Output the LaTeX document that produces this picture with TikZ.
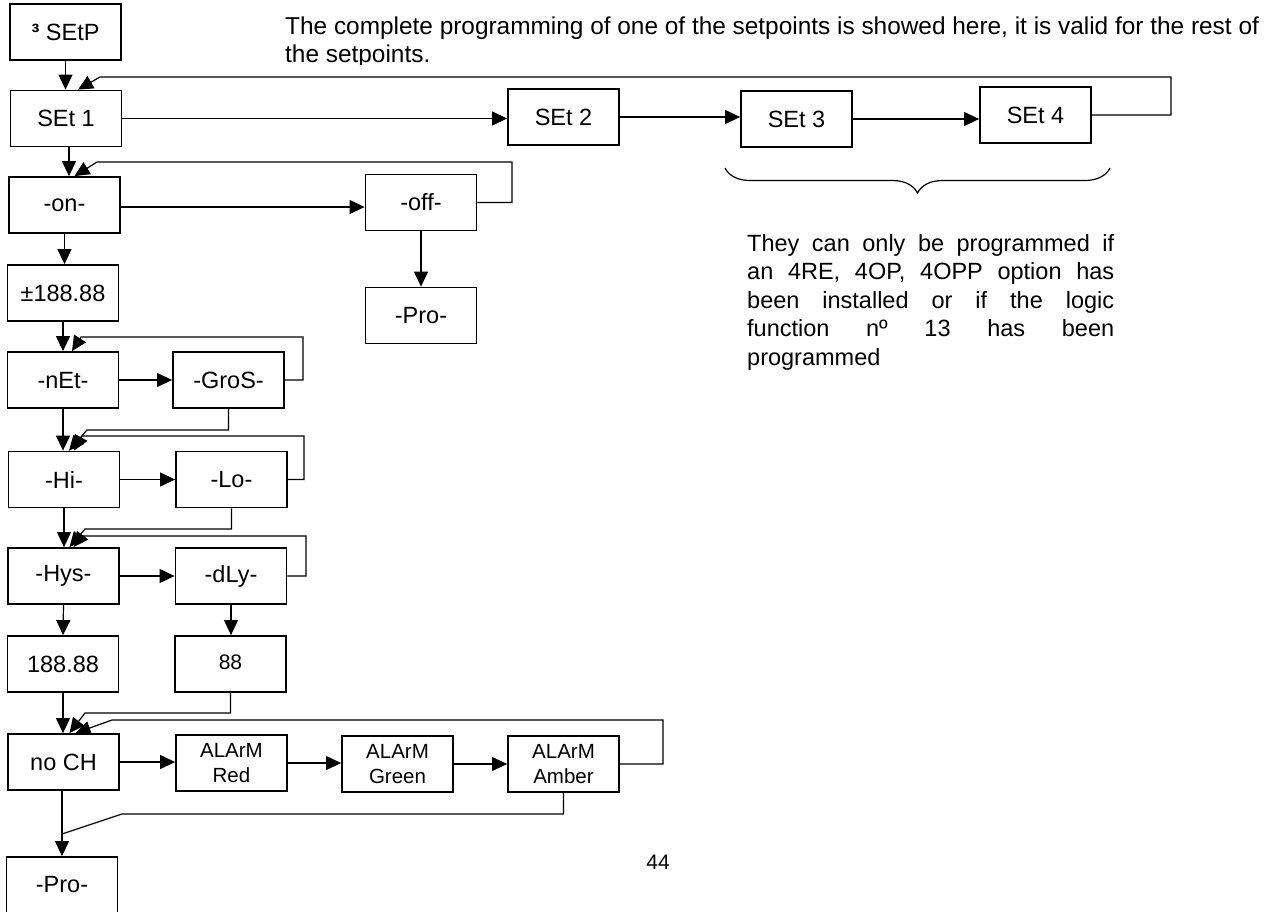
\documentclass[tikz,border=0pt]{standalone}
\usepackage{fontspec}
\setmainfont{Liberation Sans}
\usetikzlibrary{arrows.meta,decorations.pathreplacing}

\tikzset{
caja/.style={draw,line width=1.8pt,minimum width=111pt,minimum height=56pt,inner sep=0pt,font=\fontsize{23.5}{28}\selectfont},
cajaAlarma/.style={caja,align=center,font=\fontsize{20.5}{25}\selectfont},
flecha/.style={line width=1.2pt,-{Triangle[length=15pt,width=14pt]}},
linea/.style={line width=1.2pt},
texto/.style={font=\fontsize{23.5}{28.5}\selectfont,inner sep=0pt,anchor=base west}
}

\begin{document}
\begin{tikzpicture}[x=1pt,y=-1pt]
    \useasboundingbox (0,0) rectangle (1266,911);

    % cajas
    \node[caja] (SEtP) at (65.5,32) {\textbf{³} SEtP};
    \node[caja] (SEt1) at (66,118.5) {SEt 1};
    \node[caja] (SEt2) at (563.5,117) {SEt 2};
    \node[caja] (SEt3) at (796.5,119) {SEt 3};
    \node[caja] (SEt4) at (1035.5,115) {SEt 4};
    \node[caja] (on) at (64.5,205) {-on-};
    \node[caja] (off) at (421,202.5) {-off-};
    \node[caja] (proOff) at (421,315.5) {-Pro-};
    \node[caja] (valor) at (63,293) {±188.88};
    \node[caja] (nEt) at (63,380) {-nEt-};
    \node[caja] (GroS) at (228.5,380) {-GroS-};
    \node[caja] (Hi) at (64,479.5) {-Hi-};
    \node[caja] (Lo) at (231.5,479.5) {-Lo-};
    \node[caja] (Hys) at (63.5,576) {-Hys-};
    \node[caja] (dLy) at (231,576) {-dLy-};
    \node[caja] (valHys) at (63,664) {188.88};
    \node[caja,font=\fontsize{21}{25}\selectfont] (valDly) at (230.5,664) {\raisebox{3pt}{88}};
    \node[caja] (noCH) at (63.5,762) {no CH};
    \node[cajaAlarma] (red) at (231.5,763) {ALArM\\Red};
    \node[cajaAlarma] (green) at (397.5,764) {ALArM\\Green};
    \node[cajaAlarma] (amber) at (563.5,764) {ALArM\\Amber};
    \node[caja] (proFin) at (62,885) {-Pro-};
    \coordinate (junta) at (62,834);

    % flechas directas
    \draw[flecha] (SEtP.south) -- (SEtP.south |- SEt1.north);
    \draw[flecha] (SEt1.east) -- (SEt1.east -| SEt2.west);
    \draw[flecha] (SEt2.east) -- (SEt2.east -| SEt3.west);
    \draw[flecha] (SEt3.east) -- (SEt3.east -| SEt4.west);
    \draw[flecha] ([xshift=3pt]SEt1.south) -- ([xshift=3pt]SEt1.south |- on.north);
    \draw[flecha] ([yshift=-2pt]on.east) -- ([yshift=-2pt]on.east -| off.west);
    \draw[flecha] (off.south) -- (proOff.north);
    \draw[flecha] (on.south) -- (on.south |- valor.north);
    \draw[flecha] (valor.south) -- (nEt.north);
    \draw[flecha] (nEt.east) -- (GroS.west);
    \draw[flecha] (nEt.south) -- (nEt.south |- Hi.north);
    \draw[flecha] (Hi.east) -- (Lo.west);
    \draw[flecha] (Hi.south) -- (Hi.south |- Hys.north);
    \draw[flecha] (Hys.east) -- (dLy.west);
    \draw[flecha] (Hys.south) -- (valHys.north);
    \draw[flecha] (dLy.south) -- (dLy.south |- valDly.north);
    \draw[flecha] (valHys.south) -- (valHys.south |- noCH.north);
    \draw[flecha] (noCH.east) -- (noCH.east -| red.west);
    \draw[flecha] (red.east) -- (red.east -| green.west);
    \draw[flecha] (green.east) -- (green.east -| amber.west);
    \draw[flecha] (noCH.south -| proFin.north) -- (proFin.north);

    % retornos
    \draw[flecha] (SEt4.east) -| (1171,77) -- (100,77) -- ([xshift=12pt]SEt1.north);
    \draw[flecha] (off.east) -| (512,162) -- (97,162) -- ([xshift=10pt]on.north);
    \draw[flecha] (GroS.east) -| (303,337) -- (81,337) -- ([xshift=9pt]nEt.north);
    \draw[flecha] (GroS.south) |- (87,430) -- ([xshift=5pt]Hi.north);
    \draw[flecha] (Lo.east) -| (304,436) -- (82,436) -- ([xshift=10pt]Hi.north);
    \draw[flecha] (Lo.south) |- (85,529) -- ([xshift=6pt]Hys.north);
    \draw[flecha] (dLy.east) -| (306,536) -- (82,536) -- ([xshift=10pt]Hys.north);
    \draw[flecha] (valDly.south) |- (85,713) -- ([xshift=6pt]noCH.north);
    \draw[flecha] (amber.east) -| (663,720) -- (112,720) -- ([xshift=12pt]noCH.north);
    \draw[linea] (amber.south) |- (122,814) -- (junta);

    % llave
    \draw[linea,decorate,decoration={brace,mirror,amplitude=25pt}] (725,168) -- (1110,168);

    % textos
    \begin{scope}
        \clip (280,0) rectangle (1266,64);
        \node[texto,font=\fontsize{24.4}{29}\selectfont] (titulo) at (285,34) {The complete programming of one of the setpoints is showed here, it is valid for the rest of};
        \node[texto,font=\fontsize{24.4}{29}\selectfont] (titulo2) at (285,62) {the setpoints.};
    \end{scope}
    \node[texto] (nota1) at (747,251) {\makebox[367pt][s]{They can only be programmed if}};
    \node[texto] (nota2) at (747,279.5) {\makebox[367pt][s]{an 4RE, 4OP, 4OPP option has}};
    \node[texto] (nota3) at (747,308) {\makebox[367pt][s]{been installed or if the logic}};
    \node[texto] (nota4) at (747,336.5) {\makebox[367pt][s]{function nº 13 has been}};
    \node[texto] (nota5) at (747,365) {programmed};
    \node[font=\fontsize{21}{25}\selectfont] (pagina) at (658,862) {44};
\end{tikzpicture}
\end{document}
